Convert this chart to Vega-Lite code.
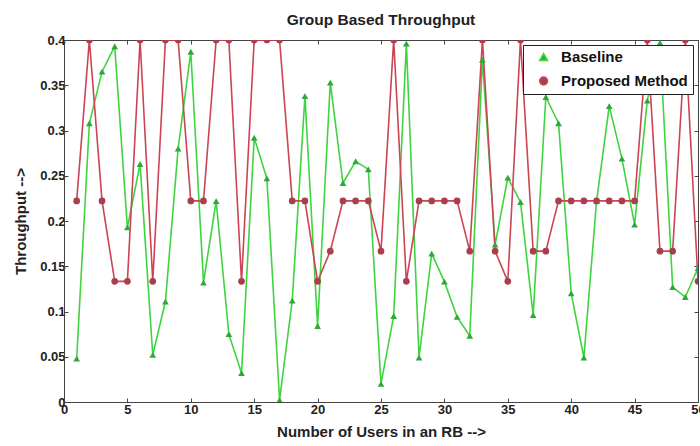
{
  "$schema": "https://vega.github.io/schema/vega-lite/v6.json",
  "autosize": {"type": "none"},
  "width": 634,
  "height": 362,
  "padding": {"left": 64, "top": 40, "right": 2, "bottom": 44},
  "background": "white",
  "title": {"text": "Group Based Throughput", "font": "Liberation Sans", "fontSize": 15.5, "fontWeight": "bold", "color": "#222", "offset": 6},
  "config": {
    "view": {"stroke": "#444", "strokeWidth": 1},
    "axis": {"grid": false, "domainColor": "#444", "tickColor": "#444", "tickSize": -4, "labelFont": "Liberation Sans", "labelFontWeight": "bold", "labelFontSize": 13, "labelColor": "#222", "titleFont": "Liberation Sans", "titleFontWeight": "bold", "titleFontSize": 15, "titleColor": "#222"},
    "legend": {"title": null, "orient": "top-right", "offset": 5, "fillColor": "white", "strokeColor": "#222", "padding": 4.5, "labelFont": "Liberation Sans", "labelFontSize": 15, "labelFontWeight": "bold", "labelColor": "#111", "labelOffset": 10, "rowPadding": 8, "symbolSize": 60, "symbolOffset": 8.6}
  },
  "data": {"values": [
    {"x": 1, "series": "Baseline", "y": 0.048}, {"x": 2, "series": "Baseline", "y": 0.308}, {"x": 3, "series": "Baseline", "y": 0.365}, {"x": 4, "series": "Baseline", "y": 0.393}, {"x": 5, "series": "Baseline", "y": 0.193},
    {"x": 6, "series": "Baseline", "y": 0.263}, {"x": 7, "series": "Baseline", "y": 0.052}, {"x": 8, "series": "Baseline", "y": 0.111}, {"x": 9, "series": "Baseline", "y": 0.280}, {"x": 10, "series": "Baseline", "y": 0.387},
    {"x": 11, "series": "Baseline", "y": 0.132}, {"x": 12, "series": "Baseline", "y": 0.222}, {"x": 13, "series": "Baseline", "y": 0.075}, {"x": 14, "series": "Baseline", "y": 0.032}, {"x": 15, "series": "Baseline", "y": 0.292},
    {"x": 16, "series": "Baseline", "y": 0.247}, {"x": 17, "series": "Baseline", "y": 0.002}, {"x": 18, "series": "Baseline", "y": 0.112}, {"x": 19, "series": "Baseline", "y": 0.338}, {"x": 20, "series": "Baseline", "y": 0.084},
    {"x": 21, "series": "Baseline", "y": 0.353}, {"x": 22, "series": "Baseline", "y": 0.242}, {"x": 23, "series": "Baseline", "y": 0.266}, {"x": 24, "series": "Baseline", "y": 0.257}, {"x": 25, "series": "Baseline", "y": 0.020},
    {"x": 26, "series": "Baseline", "y": 0.095}, {"x": 27, "series": "Baseline", "y": 0.396}, {"x": 28, "series": "Baseline", "y": 0.049}, {"x": 29, "series": "Baseline", "y": 0.164}, {"x": 30, "series": "Baseline", "y": 0.133},
    {"x": 31, "series": "Baseline", "y": 0.094}, {"x": 32, "series": "Baseline", "y": 0.073}, {"x": 33, "series": "Baseline", "y": 0.378}, {"x": 34, "series": "Baseline", "y": 0.174}, {"x": 35, "series": "Baseline", "y": 0.248},
    {"x": 36, "series": "Baseline", "y": 0.221}, {"x": 37, "series": "Baseline", "y": 0.096}, {"x": 38, "series": "Baseline", "y": 0.337}, {"x": 39, "series": "Baseline", "y": 0.308}, {"x": 40, "series": "Baseline", "y": 0.120},
    {"x": 41, "series": "Baseline", "y": 0.049}, {"x": 42, "series": "Baseline", "y": 0.222}, {"x": 43, "series": "Baseline", "y": 0.327}, {"x": 44, "series": "Baseline", "y": 0.269}, {"x": 45, "series": "Baseline", "y": 0.196},
    {"x": 46, "series": "Baseline", "y": 0.333}, {"x": 47, "series": "Baseline", "y": 0.397}, {"x": 48, "series": "Baseline", "y": 0.127}, {"x": 49, "series": "Baseline", "y": 0.116}, {"x": 50, "series": "Baseline", "y": 0.148},
    {"x": 1, "series": "Proposed Method", "y": 0.2222}, {"x": 2, "series": "Proposed Method", "y": 0.4}, {"x": 3, "series": "Proposed Method", "y": 0.2222}, {"x": 4, "series": "Proposed Method", "y": 0.1333}, {"x": 5, "series": "Proposed Method", "y": 0.1333},
    {"x": 6, "series": "Proposed Method", "y": 0.4}, {"x": 7, "series": "Proposed Method", "y": 0.1333}, {"x": 8, "series": "Proposed Method", "y": 0.4}, {"x": 9, "series": "Proposed Method", "y": 0.4}, {"x": 10, "series": "Proposed Method", "y": 0.2222},
    {"x": 11, "series": "Proposed Method", "y": 0.2222}, {"x": 12, "series": "Proposed Method", "y": 0.4}, {"x": 13, "series": "Proposed Method", "y": 0.4}, {"x": 14, "series": "Proposed Method", "y": 0.1333}, {"x": 15, "series": "Proposed Method", "y": 0.4},
    {"x": 16, "series": "Proposed Method", "y": 0.4}, {"x": 17, "series": "Proposed Method", "y": 0.4}, {"x": 18, "series": "Proposed Method", "y": 0.2222}, {"x": 19, "series": "Proposed Method", "y": 0.2222}, {"x": 20, "series": "Proposed Method", "y": 0.1333},
    {"x": 21, "series": "Proposed Method", "y": 0.1667}, {"x": 22, "series": "Proposed Method", "y": 0.2222}, {"x": 23, "series": "Proposed Method", "y": 0.2222}, {"x": 24, "series": "Proposed Method", "y": 0.2222}, {"x": 25, "series": "Proposed Method", "y": 0.1667},
    {"x": 26, "series": "Proposed Method", "y": 0.4}, {"x": 27, "series": "Proposed Method", "y": 0.1333}, {"x": 28, "series": "Proposed Method", "y": 0.2222}, {"x": 29, "series": "Proposed Method", "y": 0.2222}, {"x": 30, "series": "Proposed Method", "y": 0.2222},
    {"x": 31, "series": "Proposed Method", "y": 0.2222}, {"x": 32, "series": "Proposed Method", "y": 0.1667}, {"x": 33, "series": "Proposed Method", "y": 0.4}, {"x": 34, "series": "Proposed Method", "y": 0.1667}, {"x": 35, "series": "Proposed Method", "y": 0.1333},
    {"x": 36, "series": "Proposed Method", "y": 0.4}, {"x": 37, "series": "Proposed Method", "y": 0.1667}, {"x": 38, "series": "Proposed Method", "y": 0.1667}, {"x": 39, "series": "Proposed Method", "y": 0.2222}, {"x": 40, "series": "Proposed Method", "y": 0.2222},
    {"x": 41, "series": "Proposed Method", "y": 0.2222}, {"x": 42, "series": "Proposed Method", "y": 0.2222}, {"x": 43, "series": "Proposed Method", "y": 0.2222}, {"x": 44, "series": "Proposed Method", "y": 0.2222}, {"x": 45, "series": "Proposed Method", "y": 0.2222},
    {"x": 46, "series": "Proposed Method", "y": 0.4}, {"x": 47, "series": "Proposed Method", "y": 0.1667}, {"x": 48, "series": "Proposed Method", "y": 0.1667}, {"x": 49, "series": "Proposed Method", "y": 0.4}, {"x": 50, "series": "Proposed Method", "y": 0.1333}
  ]},
  "layer": [
    {
      "mark": {"type": "line", "strokeWidth": 1.6, "clip": true},
      "encoding": {
        "x": {"field": "x", "type": "quantitative", "scale": {"domain": [0, 50], "nice": false}, "axis": {"title": "Number of Users in an RB -->", "values": [0, 5, 10, 15, 20, 25, 30, 35, 40, 45, 50], "labelPadding": 5, "titlePadding": 8, "labelFlush": false, "labelOverlap": false}},
        "y": {"field": "y", "type": "quantitative", "scale": {"domain": [0, 0.4], "nice": false}, "axis": {"title": "Throughput -->", "values": [0, 0.05, 0.1, 0.15, 0.2, 0.25, 0.3, 0.35, 0.4], "format": "~f", "labelPadding": 3, "titlePadding": 11, "labelFlush": false, "labelOverlap": false}},
        "stroke": {"field": "series", "type": "nominal", "scale": {"domain": ["Baseline", "Proposed Method"], "range": ["#3fd43f", "#cc4455"]},
          "legend": {"encode": {"symbols": {"update": {
              "stroke": {"signal": "datum.value === 'Baseline' ? '#3fd43f' : '#cc4455'"},
              "fill": {"signal": "datum.value === 'Baseline' ? '#2fa83a' : '#a8404c'"},
              "strokeWidth": {"value": 1.6},
              "opacity": {"value": 1}
            }}}}},
        "detail": {"field": "series"}
      }
    },
    {
      "mark": {"type": "point", "filled": true, "opacity": 1, "clip": true},
      "encoding": {
        "x": {"field": "x", "type": "quantitative", "axis": {"orient": "top", "title": null, "labels": false, "domain": false, "values": [0, 5, 10, 15, 20, 25, 30, 35, 40, 45, 50]}},
        "y": {"field": "y", "type": "quantitative", "axis": {"orient": "right", "title": null, "labels": false, "domain": false, "values": [0, 0.05, 0.1, 0.15, 0.2, 0.25, 0.3, 0.35, 0.4]}},
        "fill": {"field": "series", "type": "nominal", "scale": {"domain": ["Baseline", "Proposed Method"], "range": ["#2fa83a", "#a8404c"]},
          "legend": {"encode": {"symbols": {"update": {
              "stroke": {"signal": "datum.value === 'Baseline' ? '#3fd43f' : '#cc4455'"},
              "fill": {"signal": "datum.value === 'Baseline' ? '#2fa83a' : '#a8404c'"},
              "strokeWidth": {"value": 1.6},
              "opacity": {"value": 1}
            }}}}},
        "shape": {"field": "series", "type": "nominal", "scale": {"domain": ["Baseline", "Proposed Method"], "range": ["triangle-up", "circle"]},
          "legend": {"encode": {"symbols": {"update": {
              "stroke": {"signal": "datum.value === 'Baseline' ? '#3fd43f' : '#cc4455'"},
              "fill": {"signal": "datum.value === 'Baseline' ? '#2fa83a' : '#a8404c'"},
              "strokeWidth": {"value": 1.6},
              "opacity": {"value": 1}
            }}}}},
        "size": {"value": 45}
      }
    }
  ],
  "resolve": {"axis": {"x": "independent", "y": "independent"}}
}
